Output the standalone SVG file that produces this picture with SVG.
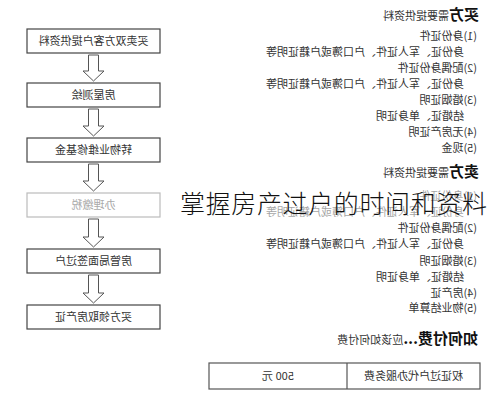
<svg xmlns="http://www.w3.org/2000/svg" width="488" height="400" viewBox="0 0 488 400">
<style>
text{font-family:"Noto Sans CJK SC","Noto Sans",sans-serif;fill:#333;}
.box{fill:#fff;stroke:#444;stroke-width:1.2;}
.gbox{fill:#fff;stroke:#bbb;stroke-width:1.2;}
.bt{font-size:11px;text-anchor:middle;}
.gt{font-size:11px;text-anchor:middle;fill:#aaa;}
.arr{fill:#fff;stroke:#555;stroke-width:1;}
.b{font-size:11px;}
.h{font-size:15px;font-weight:bold;fill:#111;}
.title{font-size:25px;font-weight:300;fill:#111;}
</style>
<rect width="488" height="400" fill="#fff"/>
<g transform="translate(488,0) scale(-1,1)">
  <g id="connectors">
    <path class="arr" d="M389.5,55 H399.5 V71 H405 L394.5,81 L384,71 H389.5 Z"/>
    <path class="arr" d="M389.5,109 H399.5 V126 H405 L394.5,136 L384,126 H389.5 Z"/>
    <path class="arr" d="M389.5,164 H399.5 V181 H405 L394.5,191 L384,181 H389.5 Z"/>
    <path class="arr" d="M389.5,219 H399.5 V237 H405 L394.5,247 L384,237 H389.5 Z"/>
    <path class="arr" d="M389.5,275 H399.5 V293 H405 L394.5,303 L384,293 H389.5 Z"/>
  </g>
  <g id="n1"><rect class="box" x="328" y="29" width="133" height="24"/><text class="bt" x="394.5" y="45">买卖双方客户提供资料</text></g>
  <g id="n2"><rect class="box" x="328" y="83" width="133" height="24"/><text class="bt" x="394.5" y="99">房屋测绘</text></g>
  <g id="n3"><rect class="box" x="328" y="138" width="133" height="24"/><text class="bt" x="394.5" y="154">转物业维修基金</text></g>
  <g id="n4"><rect class="gbox" x="328" y="193" width="133" height="24"/><text class="gt" x="394.5" y="209">办理缴税</text></g>
  <g id="n5"><rect class="box" x="328" y="249" width="133" height="24"/><text class="bt" x="394.5" y="265">房管局面签过户</text></g>
  <g id="n6"><rect class="box" x="328" y="305" width="133" height="24"/><text class="bt" x="394.5" y="321">买方领取房产证</text></g>

  <g id="buyer">
    <text x="9" y="20"><tspan class="h">买方</tspan><tspan class="b">需要提供资料</tspan></text>
    <text class="b" x="11" y="40">(1)身份证件</text>
    <text class="b" x="24" y="56">身份证、军人证件、户口簿或户籍证明等</text>
    <text class="b" x="11" y="72">(2)配偶身份证件</text>
    <text class="b" x="24" y="88">身份证、军人证件、户口簿或户籍证明等</text>
    <text class="b" x="11" y="104">(3)婚姻证明</text>
    <text class="b" x="24" y="120">结婚证、单身证明</text>
    <text class="b" x="11" y="136">(4)无房产证明</text>
    <text class="b" x="11" y="152">(5)现金</text>
  </g>
  <g id="seller">
    <text x="9" y="177"><tspan class="h">卖方</tspan><tspan class="b">需要提供资料</tspan></text>
    <text class="b" x="11" y="200">(1)身份证件</text>
    <text class="b" x="24" y="216">身份证、军人证件、户口簿或户籍证明等</text>
    <text class="b" x="11" y="232">(2)配偶身份证件</text>
    <text class="b" x="24" y="248">身份证、军人证件、户口簿或户籍证明等</text>
    <text class="b" x="11" y="265">(3)婚姻证明</text>
    <text class="b" x="24" y="281">结婚证、单身证明</text>
    <text class="b" x="11" y="297">(4)房产证</text>
    <text class="b" x="11" y="312">(5)物业结算单</text>
  </g>
  <g id="fee">
    <text x="10" y="344"><tspan class="h" font-size="16px">如何付费...</tspan><tspan class="b">应该如何付费</tspan></text>
  </g>
  <g id="table">
    <rect x="8" y="363" width="271" height="26" fill="#fff" stroke="#555" stroke-width="1.2"/>
    <line x1="141" y1="363" x2="141" y2="389" stroke="#555" stroke-width="1.2"/>
    <text class="b" x="74.5" y="380" text-anchor="middle">权证过户代办服务费</text>
    <text class="b" x="210" y="380" text-anchor="middle">500 元</text>
  </g>
</g>
<g id="title">
  <rect x="180" y="188" width="308" height="30" fill="#fff" opacity="0.55"/>
  <text class="title" x="180" y="213" textLength="307">掌握房产过户的时间和资料</text>
</g>
</svg>
